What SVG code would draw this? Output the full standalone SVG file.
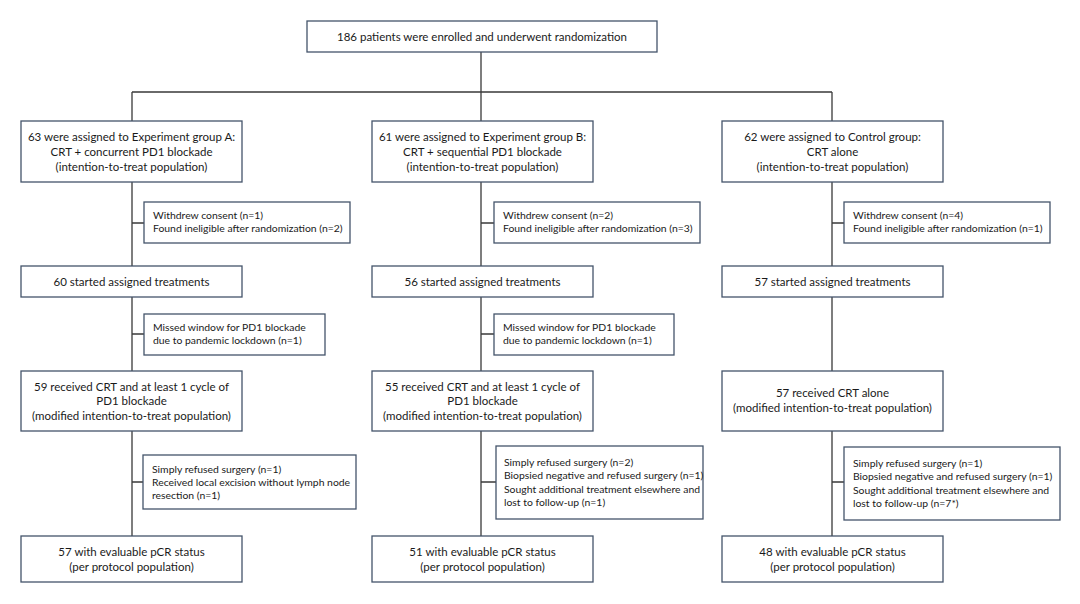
<svg xmlns="http://www.w3.org/2000/svg" width="1080" height="604" viewBox="0 0 1080 604">
<style>
.box{fill:#fff;stroke:#44546a;stroke-width:1.3}
.ln{fill:none;stroke:#3a3a3a;stroke-width:1.3}
text{font-family:Lato,"Liberation Sans",sans-serif;fill:#1a1a1a}
.m{font-size:11.5px;text-anchor:middle}
.s{font-size:10.4px}
</style>
<rect width="1080" height="604" fill="#fff"/>
<g id="connectors">
<path class="ln" d="M481 52V92M132 92H832M132 92V121M481 92V121M832 92V121"/>
<path class="ln" d="M132 182V266M132 297V371M132 431V536M132 223H144M132 334H144M132 482H143"/>
<path class="ln" d="M481 182V266M481 297V371M481 431V536M481 223H494M481 334H494M481 482H496"/>
<path class="ln" d="M832 182V266M832 297V371M832 431V536M832 223H844M832 482H844"/>
</g>
<g id="top"><rect class="box" x="307" y="21" width="350" height="31"/><text class="m" x="482" y="41">186 patients were enrolled and underwent randomization</text></g>

<g id="a1"><rect class="box" x="21" y="121" width="221" height="61"/><text class="m" x="131.5" y="141">63 were assigned to Experiment group A:</text><text class="m" x="131.5" y="156">CRT + concurrent PD1 blockade</text><text class="m" x="131.5" y="171">(intention-to-treat population)</text></g>
<g id="b1"><rect class="box" x="372" y="121" width="221" height="61"/><text class="m" x="482.5" y="141">61 were assigned to Experiment group B:</text><text class="m" x="482.5" y="156">CRT + sequential PD1 blockade</text><text class="m" x="482.5" y="171">(intention-to-treat population)</text></g>
<g id="c1"><rect class="box" x="722" y="121" width="221" height="61"/><text class="m" x="832.5" y="141">62 were assigned to Control group:</text><text class="m" x="832.5" y="156">CRT alone</text><text class="m" x="832.5" y="171">(intention-to-treat population)</text></g>

<g id="ax1"><rect class="box" x="144" y="202" width="206" height="41"/><text class="s" x="153" y="219">Withdrew consent (n=1)</text><text class="s" x="153" y="232">Found ineligible after randomization (n=2)</text></g>
<g id="bx1"><rect class="box" x="494" y="202" width="206" height="41"/><text class="s" x="503" y="219">Withdrew consent (n=2)</text><text class="s" x="503" y="232">Found ineligible after randomization (n=3)</text></g>
<g id="cx1"><rect class="box" x="844" y="202" width="206" height="41"/><text class="s" x="853" y="219">Withdrew consent (n=4)</text><text class="s" x="853" y="232">Found ineligible after randomization (n=1)</text></g>

<g id="a2"><rect class="box" x="21" y="266" width="221" height="31"/><text class="m" x="131.5" y="286">60 started assigned treatments</text></g>
<g id="b2"><rect class="box" x="372" y="266" width="221" height="31"/><text class="m" x="482.5" y="286">56 started assigned treatments</text></g>
<g id="c2"><rect class="box" x="722" y="266" width="221" height="31"/><text class="m" x="832.5" y="286">57 started assigned treatments</text></g>

<g id="ax2"><rect class="box" x="144" y="314" width="181" height="41"/><text class="s" x="153" y="331">Missed window for PD1 blockade</text><text class="s" x="153" y="344">due to pandemic lockdown (n=1)</text></g>
<g id="bx2"><rect class="box" x="494" y="314" width="180" height="41"/><text class="s" x="503" y="331">Missed window for PD1 blockade</text><text class="s" x="503" y="344">due to pandemic lockdown (n=1)</text></g>

<g id="a3"><rect class="box" x="21" y="371" width="221" height="60"/><text class="m" x="131.5" y="391">59 received CRT and at least 1 cycle of</text><text class="m" x="131.5" y="405">PD1 blockade</text><text class="m" x="131.5" y="420">(modified intention-to-treat population)</text></g>
<g id="b3"><rect class="box" x="372" y="371" width="221" height="60"/><text class="m" x="482.5" y="391">55 received CRT and at least 1 cycle of</text><text class="m" x="482.5" y="405">PD1 blockade</text><text class="m" x="482.5" y="420">(modified intention-to-treat population)</text></g>
<g id="c3"><rect class="box" x="722" y="371" width="221" height="60"/><text class="m" x="832.5" y="397">57 received CRT alone</text><text class="m" x="832.5" y="412">(modified intention-to-treat population)</text></g>

<g id="ax3"><rect class="box" x="143" y="455" width="213" height="54"/><text class="s" x="152" y="473">Simply refused surgery (n=1)</text><text class="s" x="152" y="486">Received local excision without lymph node</text><text class="s" x="152" y="499">resection (n=1)</text></g>
<g id="bx3"><rect class="box" x="496" y="446" width="207" height="73"/><text class="s" x="504" y="466">Simply refused surgery (n=2)</text><text class="s" x="504" y="479">Biopsied negative and refused surgery (n=1)</text><text class="s" x="504" y="493">Sought additional treatment elsewhere and</text><text class="s" x="504" y="506">lost to follow-up (n=1)</text></g>
<g id="cx3"><rect class="box" x="844" y="447" width="216" height="73"/><text class="s" x="853" y="467">Simply refused surgery (n=1)</text><text class="s" x="853" y="480">Biopsied negative and refused surgery (n=1)</text><text class="s" x="853" y="494">Sought additional treatment elsewhere and</text><text class="s" x="853" y="507">lost to follow-up (n=7*)</text></g>

<g id="a4"><rect class="box" x="21" y="536" width="221" height="46"/><text class="m" x="131.5" y="556">57 with evaluable pCR status</text><text class="m" x="131.5" y="571">(per protocol population)</text></g>
<g id="b4"><rect class="box" x="372" y="536" width="221" height="46"/><text class="m" x="482.5" y="556">51 with evaluable pCR status</text><text class="m" x="482.5" y="571">(per protocol population)</text></g>
<g id="c4"><rect class="box" x="722" y="536" width="221" height="46"/><text class="m" x="832.5" y="556">48 with evaluable pCR status</text><text class="m" x="832.5" y="571">(per protocol population)</text></g>
</svg>
